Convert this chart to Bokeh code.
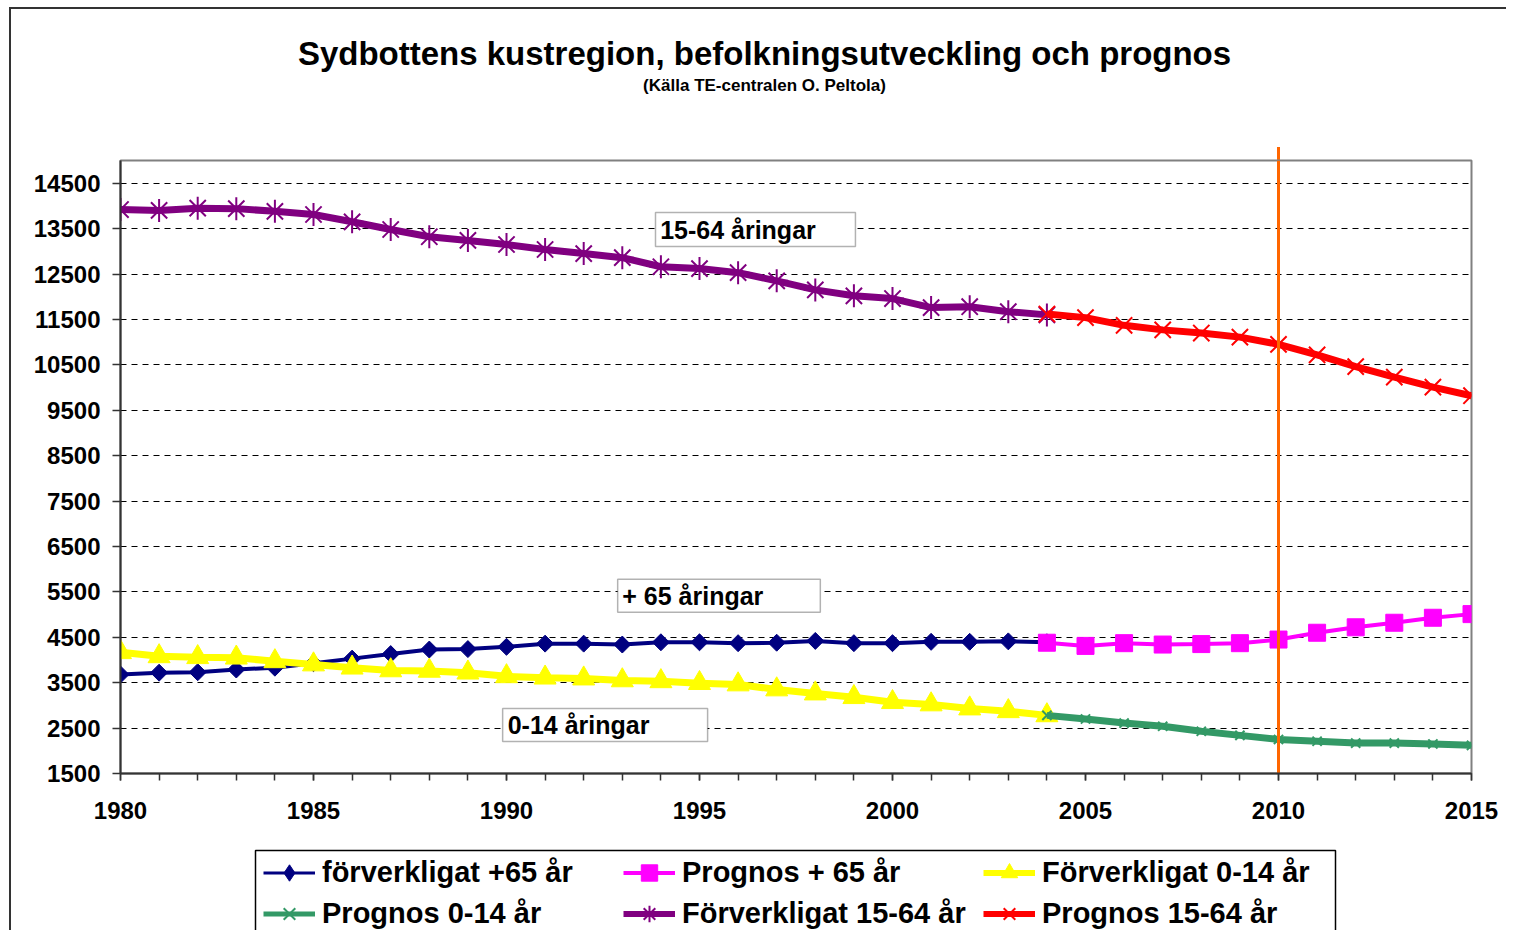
from bokeh.plotting import figure
from bokeh.layouts import column
from bokeh.models import (Range1d, FixedTicker, Legend, LegendItem, Label, BoxAnnotation)
from bokeh.embed import file_html
from bokeh.resources import INLINE

# ---------------- data ----------------
years_real = list(range(1980, 2005))
years_prog = list(range(2004, 2016))

plus65_real = [3680, 3720, 3730, 3790, 3830, 3930, 4030, 4130, 4230, 4240,
               4290, 4360, 4360, 4340, 4390, 4390, 4370, 4380, 4420, 4370,
               4370, 4400, 4400, 4410, 4390]
plus65_prog = [4380, 4310, 4370, 4340, 4350, 4370, 4450, 4600, 4720, 4820, 4930, 5010]

young_real = [4170, 4080, 4060, 4050, 3970, 3900, 3830, 3770, 3760, 3720,
              3640, 3610, 3590, 3550, 3530, 3490, 3460, 3350, 3260, 3180,
              3070, 3020, 2930, 2870, 2780]
young_prog = [2780, 2700, 2610, 2540, 2430, 2340, 2250, 2210, 2170, 2170, 2150, 2120]

work_real = [13920, 13900, 13950, 13940, 13880, 13810, 13650, 13480, 13320, 13240,
             13150, 13040, 12950, 12860, 12660, 12620, 12530, 12350, 12150, 12020,
             11960, 11760, 11780, 11670, 11600]
work_prog = [11620, 11540, 11370, 11270, 11200, 11110, 10950, 10720, 10460, 10230, 10010, 9820]

y_ticks = [1500, 2500, 3500, 4500, 5500, 6500, 7500, 8500, 9500, 10500, 11500, 12500, 13500, 14500]
x_ticks = [1980, 1985, 1990, 1995, 2000, 2005, 2010, 2015]

legend_labels = ["förverkligat +65 år", "Prognos + 65 år", "Förverkligat 0-14 år",
                 "Prognos 0-14 år", "Förverkligat 15-64 år", "Prognos 15-64 år"]
title_text = "Sydbottens kustregion, befolkningsutveckling och prognos"
subtitle_text = "(Källa TE-centralen O. Peltola)"
box_texts = ["15-64 åringar", "+ 65 åringar", "0-14 åringar"]
forecast_year = 2010

FONT = "Liberation Sans"
W = 1506
FRAME_L, FRAME_R = 120, 1471  # page pixels of the plot frame (shared by all strips)

# series styles: (color, line width, marker, marker size, marker line width, angle, legend marker, legend line width)
styles = [
    ("#000080", 4, "square", 12, 1, 0.785398, "diamond", 3),
    ("#FF00FF", 4, "square", 17, 1, 0.0, "square", 4),
    ("#FFFF00", 7, "triangle", 22, 1, 0.0, "triangle", 6),
    ("#339966", 7, "x", 13, 2, 0.0, "x", 5),
    ("#800080", 7, "asterisk", 23, 2, 0.0, "asterisk", 6),
    ("#FF0000", 7, "x", 23, 2, 0.0, "x", 6),
]
series = [(years_real, plus65_real), (years_prog, plus65_prog),
          (years_real, young_real), (years_prog, young_prog),
          (years_real, work_real), (years_prog, work_prog)]


def blank(fig):
    fig.title.visible = False
    fig.outline_line_color = None
    fig.background_fill_alpha = 0
    fig.border_fill_alpha = 0
    fig.grid.visible = False


# ---------------- header (titles) ----------------
hdr = figure(width=W, height=150, output_backend="svg", toolbar_location=None,
             x_range=Range1d(FRAME_L, FRAME_R), y_range=Range1d(150, 0),
             x_axis_type=None, y_axis_type=None,
             min_border_left=0, min_border_right=0, min_border_top=0, min_border_bottom=0)
blank(hdr)
hdr.add_layout(Label(x=764, y=53, text=title_text, text_font=FONT, text_font_style="bold",
                     text_font_size="33px", text_align="center", text_baseline="middle",
                     text_color="black"))
hdr.add_layout(Label(x=764, y=85, text=subtitle_text, text_font=FONT, text_font_style="bold",
                     text_font_size="17px", text_align="center", text_baseline="middle",
                     text_color="black"))

# ---------------- main chart ----------------
p = figure(width=W, height=685, output_backend="svg", toolbar_location=None,
           x_range=Range1d(1980, 2015), y_range=Range1d(1500, 15000),
           min_border_left=FRAME_L, min_border_right=W - FRAME_R, min_border_top=10,
           min_border_bottom=62)
p.title.visible = False
p.background_fill_color = "white"
p.border_fill_alpha = 0
p.outline_line_color = "#808080"
p.outline_line_width = 2

p.xaxis.ticker = FixedTicker(ticks=x_ticks, minor_ticks=list(range(1980, 2016)))
p.yaxis.ticker = FixedTicker(ticks=y_ticks, minor_ticks=[])
for ax in (p.xaxis[0], p.yaxis[0]):
    ax.axis_line_color = "#333333"
    ax.axis_line_width = 2
    ax.major_tick_line_color = "#333333"
    ax.minor_tick_line_color = "#333333"
    ax.major_tick_line_width = 1.5
    ax.minor_tick_line_width = 1.5
    ax.major_tick_in = 0
    ax.minor_tick_in = 0
    ax.major_label_text_font = FONT
    ax.major_label_text_font_style = "bold"
    ax.major_label_text_color = "black"
p.xaxis.major_tick_out = 7
p.xaxis.minor_tick_out = 7
p.yaxis.major_tick_out = 8
p.xaxis.major_label_text_font_size = "24px"
p.yaxis.major_label_text_font_size = "24px"
p.xaxis.major_label_standoff = 21
p.yaxis.major_label_standoff = 12

p.xgrid.grid_line_color = None
p.ygrid.grid_line_color = "black"
p.ygrid.grid_line_width = 1
p.ygrid.grid_line_dash = "6 5"

for (xs, ys), (col, lw, mk, ms, mlw, ang, _lm, _llw) in zip(series, styles):
    p.line(xs, ys, line_color=col, line_width=lw)
    p.scatter(xs, ys, marker=mk, size=ms, angle=ang, fill_color=col,
              line_color=col, line_width=mlw)

p.segment(x0=[forecast_year], y0=[1500], x1=[forecast_year], y1=[15000],
          line_color="#FF6600", line_width=3)

boxes = [
    (1993.86, 1999.04, 13854, 13104, 1993.98, 13479),
    (1992.88, 1998.13, 5780, 5052, 1993.0, 5405),
    (1989.90, 1995.21, 2934, 2206, 1990.03, 2570),
]
for (l, r, t, b, tx, ty), txt in zip(boxes, box_texts):
    p.add_layout(BoxAnnotation(left=l, right=r, top=t, bottom=b, fill_color="white",
                               fill_alpha=1, line_color="black", line_width=1.5))
    p.add_layout(Label(x=tx, y=ty, text=txt, text_font=FONT, text_font_style="bold",
                       text_font_size="25px", text_baseline="middle", text_align="left",
                       text_color="black"))

# ---------------- legend strip ----------------
lg = figure(width=W, height=95, output_backend="svg", toolbar_location=None,
            x_range=Range1d(FRAME_L, FRAME_R), y_range=Range1d(95, 0),
            x_axis_type=None, y_axis_type=None,
            min_border_left=0, min_border_right=0, min_border_top=0, min_border_bottom=0)
blank(lg)
lg.quad(left=[255], right=[1335], top=[15], bottom=[110], fill_color="white",
        line_color="black", line_width=1.5)

legend_items = []
for i, (col, lw, mk, ms, mlw, ang, lmk, llw) in enumerate(styles):
    rl = lg.line([-50, -40], [-50, -40], line_color=col, line_width=llw)
    rs = lg.scatter([-50], [-50], marker=lmk, size=ms, fill_color=col,
                    line_color=col, line_width=mlw)
    legend_items.append(LegendItem(label=legend_labels[i], renderers=[rl, rs]))

col_x = [263, 623, 983]
for c in range(3):
    leg = Legend(items=[legend_items[c], legend_items[c + 3]],
                 location=(col_x[c] - FRAME_L, -4), orientation="vertical",
                 label_text_font=FONT, label_text_font_style="bold", label_text_font_size="29px",
                 label_text_color="black", label_standoff=7, glyph_width=52, glyph_height=41,
                 label_height=41, spacing=0, padding=0, margin=0,
                 border_line_color=None, background_fill_alpha=0)
    lg.add_layout(leg, "center")

layout = column(hdr, p, lg, spacing=0)
layout.styles = {
    "background-image": "linear-gradient(#333333,#333333), linear-gradient(#333333,#333333), "
                        "linear-gradient(#FF6600,#FF6600)",
    "background-size": "2px 100%, 100% 2px, 3px 14px",
    "background-position": "9px 7px, 9px 7px, 1277px 147px",
    "background-repeat": "no-repeat",
}

open("out.html", "w").write(file_html(layout, INLINE))
